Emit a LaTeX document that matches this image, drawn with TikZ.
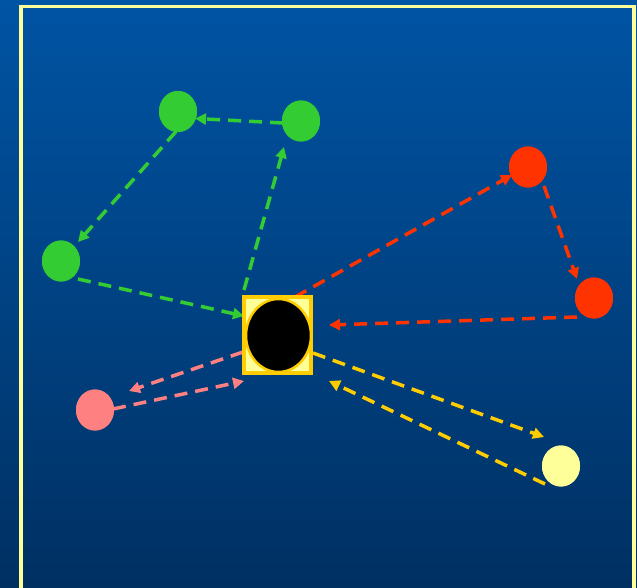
\documentclass[tikz,border=0pt]{standalone}
\usetikzlibrary{arrows.meta,shapes.geometric}
\definecolor{bgtop}{RGB}{0,84,164}
\definecolor{bgbot}{RGB}{0,48,98}
\definecolor{gr}{RGB}{51,204,51}
\definecolor{rd}{RGB}{255,51,0}
\definecolor{pk}{RGB}{255,128,128}
\definecolor{gd}{RGB}{255,204,0}
\definecolor{ly}{RGB}{255,255,153}
\tikzset{
  dot/.style={ellipse,minimum width=38pt,minimum height=41pt,inner sep=0pt,draw=none},
  lnk/.style={line width=3.5pt,dash pattern=on 13pt off 8pt,-{Triangle[length=11pt,width=11pt]}},
}
\begin{document}
\begin{tikzpicture}[x=1pt,y=-1pt]
\useasboundingbox (0,0) rectangle (637,588);
\shade[top color=bgtop,bottom color=bgbot] (0,0) rectangle (637,588);
\draw[ly,line width=3.2pt] (21,592) -- (21,6.3) -- (634,6.3) -- (634,592);
% nodes (positions)
\node[dot,fill=gr] (g1) at (178,111.5) {};
\node[dot,fill=gr] (g2) at (301,121) {};
\node[dot,fill=gr] (g3) at (61,261) {};
\node[dot,fill=rd] (r1) at (528,167) {};
\node[dot,fill=rd] (r2) at (594,298) {};
\node[dot,fill=pk] (p) at (95,410) {};
\node[dot,fill=ly] (yl) at (561,466) {};
\coordinate (bx) at (277.5,335);
% edges
\draw[lnk,gr] ([shift={(-18,2)}]g2.center) -- ([shift={(17,7)}]g1.center);
\draw[lnk,gr] ([shift={(-2,20)}]g1.center) -- ([shift={(17,-19)}]g3.center);
\draw[lnk,gr] ([shift={(17,18)}]g3.center) -- ([shift={(-33.5,-19)}]bx);
\draw[lnk,gr] ([shift={(-33.5,-45)}]bx) -- ([shift={(-17,26)}]g2.center);
\draw[lnk,rd] ([shift={(17.5,-38)}]bx) -- ([shift={(-16,8)}]r1.center);
\draw[lnk,rd] ([shift={(16,19)}]r1.center) -- ([shift={(-17,-19)}]r2.center);
\draw[lnk,rd] ([shift={(-17,19)}]r2.center) -- ([shift={(51.5,-10)}]bx);
\draw[lnk,pk] ([shift={(-34.5,17)}]bx) -- ([shift={(34,-19)}]p.center);
\draw[lnk,pk] ([shift={(18,-1)}]p.center) -- ([shift={(-33.5,46)}]bx);
\draw[lnk,gd] ([shift={(35.5,18)}]bx) -- ([shift={(-17,-29)}]yl.center);
\draw[lnk,gd] ([shift={(-16,18)}]yl.center) -- ([shift={(51.5,46)}]bx);
% redraw dots on top
\foreach \n/\c in {g1/gr,g2/gr,g3/gr,r1/rd,r2/rd,p/pk,yl/ly}
  \fill[\c] (\n.center) ellipse [x radius=19, y radius=20.5];
% central box
\node[draw=gd,fill=ly,line width=4pt,minimum width=67pt,minimum height=76pt,inner sep=0pt] (box) at (bx) {};
\node[ellipse,draw=gd,fill=black,line width=2.5pt,minimum width=65pt,minimum height=73pt,inner sep=0pt] (core) at (278.5,335.5) {};
\end{tikzpicture}
\end{document}
